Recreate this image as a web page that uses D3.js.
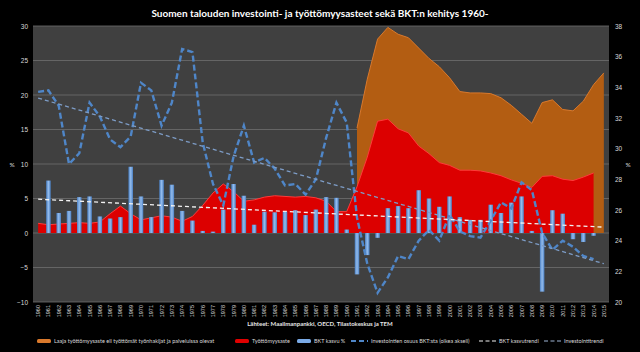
<!DOCTYPE html>
<html>
<head>
<meta charset="utf-8">
<script src="https://cdn.jsdelivr.net/npm/d3@7"></script>
<style>
body { margin: 0; background: #000; }
svg { display: block; font-family: Lato, "Open Sans", sans-serif; }
</style>
</head>
<body>
<div id="chart"></div>
<script>

// categories
var years = [1960, 1961, 1962, 1963, 1964, 1965, 1966, 1967, 1968, 1969,
             1970, 1971, 1972, 1973, 1974, 1975, 1976, 1977, 1978, 1979,
             1980, 1981, 1982, 1983, 1984, 1985, 1986, 1987, 1988, 1989,
             1990, 1991, 1992, 1993, 1994, 1995, 1996, 1997, 1998, 1999,
             2000, 2001, 2002, 2003, 2004, 2005, 2006, 2007, 2008, 2009,
             2010, 2011, 2012, 2013, 2014, 2015];

// BKT kasvu % (left axis)
var gdpGrowth = [null, 7.6, 2.9, 3.2, 5.2, 5.3, 2.4, 2.1, 2.3, 9.6,
                 5.3, 2.3, 7.7, 7.0, 3.2, 1.8, 0.3, 0.2, 3.4, 7.1,
                 5.4, 1.2, 3.1, 3.0, 3.1, 3.3, 2.6, 3.4, 5.2, 5.1,
                 0.5, -6.0, -3.2, -0.7, 3.6, 3.9, 3.6, 6.2, 5.0, 3.8,
                 5.3, 2.3, 1.9, 1.9, 4.1, 2.9, 4.4, 5.3, 0.3, -8.5,
                 3.3, 2.8, -0.9, -1.3, -0.4, null];

// Työttömyysaste (left axis)
var unemployment = [1.4, 1.2, 1.3, 1.4, 1.5, 1.4, 1.6, 2.8, 3.9, 2.8,
                    1.9, 2.2, 2.5, 2.3, 1.7, 2.4, 4.0, 5.8, 7.1, 6.0,
                    4.6, 4.8, 5.2, 5.4, 5.3, 5.2, 5.3, 5.1, 4.6, 3.1,
                    3.1, 6.7, 11.0, 16.2, 16.5, 15.1, 14.5, 12.6, 11.5, 10.2,
                    9.8, 9.1, 9.1, 9.0, 8.7, 8.3, 7.7, 7.2, 6.6, 8.2,
                    8.3, 7.8, 7.6, 8.1, 8.7, null];

// Laaja työttömyysaste (left axis)
var broadUnemployment = [null, null, null, null, null, null, null, null, null, null,
                         null, null, null, null, null, null, null, null, null, null,
                         null, null, null, null, null, null, null, null, null, null,
                         null, 15.2, 22.3, 28.1, 29.8, 28.8, 28.3, 26.8, 25.3, 24.1,
                         22.5, 20.5, 20.3, 20.3, 20.2, 19.6, 18.5, 17.2, 15.9, 18.9,
                         19.3, 17.9, 17.7, 19.1, 21.5, 23.2];

// Investointien osuus BKT:sta (right axis)
var investShare = [33.7, 33.8, 32.8, 29.0, 29.7, 33.0, 32.1, 30.6, 30.1, 30.8,
                   34.3, 33.8, 31.5, 33.0, 36.5, 36.3, 30.4, 27.7, 26.3, 29.5,
                   31.5, 29.1, 29.4, 28.7, 27.6, 27.7, 27.0, 28.0, 30.7, 33.0,
                   31.7, 25.5, 22.5, 20.6, 21.6, 23.0, 22.8, 24.0, 24.7, 24.0,
                   25.7, 24.6, 24.3, 24.2, 25.3, 26.5, 26.1, 27.8, 27.3, 24.5,
                   23.4, 24.0, 23.6, 23.0, 22.8, null];

// trend lines (start and end of the linear trend)
var trendYears = [1960, 2015];
var gdpTrend = [4.9, 0.85];
var investTrend = [33.3, 22.5];

// axis ticks
var leftTicks = [-10, -5, 0, 5, 10, 15, 20, 25, 30];
var rightTicks = [20, 22, 24, 26, 28, 30, 32, 34, 36, 38];

var title = "Suomen talouden investointi- ja työttömyysasteet sekä BKT:n kehitys 1960-";
var source = "Lähteet: Maailmanpankki, OECD, Tilastokeskus ja TEM";

var width = 640, height = 352;
var plot = {left: 33, right: 609, top: 26, bottom: 302};

var svg = d3.select("#chart").append("svg")
    .attr("width", width)
    .attr("height", height);

var defs = svg.append("defs");
var barGrad = defs.append("linearGradient")
    .attr("id", "barGrad")
    .attr("x1", 0).attr("x2", 1).attr("y1", 0).attr("y2", 0);
barGrad.append("stop").attr("offset", "0%").attr("stop-color", "#4a80c4");
barGrad.append("stop").attr("offset", "50%").attr("stop-color", "#94bcec");
barGrad.append("stop").attr("offset", "100%").attr("stop-color", "#4a80c4");

svg.append("rect")
    .attr("width", width)
    .attr("height", height)
    .attr("fill", "#000");

svg.append("rect")
    .attr("x", plot.left)
    .attr("y", plot.top)
    .attr("width", plot.right - plot.left)
    .attr("height", plot.bottom - plot.top)
    .attr("fill", "#404040");

var x = d3.scaleBand()
    .domain(years)
    .range([plot.left, plot.right])
    .paddingInner(0.56)
    .paddingOuter(0.28);

function cx(year) { return x(year) + x.bandwidth() / 2; }

var yL = d3.scaleLinear().domain([-10, 30]).range([plot.bottom, plot.top]);
var yR = d3.scaleLinear().domain([20, 38]).range([plot.bottom, plot.top]);

// gridlines
svg.append("g")
    .selectAll("line")
    .data(leftTicks).enter()
    .append("line")
    .attr("x1", plot.left)
    .attr("x2", plot.right)
    .attr("y1", function(d) { return yL(d); })
    .attr("y2", function(d) { return yL(d); })
    .attr("stroke", "#6e6e6e")
    .attr("stroke-width", 0.8);

//////////////
//draw areas//
//////////////
var rows = years.map(function(year, i) {
    return {year: year, gdp: gdpGrowth[i], unemp: unemployment[i],
            broad: broadUnemployment[i], invest: investShare[i]};
});

var broadArea = d3.area()
    .defined(function(d) { return d.broad != null; })
    .x(function(d) { return cx(d.year); })
    .y0(yL(0))
    .y1(function(d) { return yL(d.broad); });
var broadLine = d3.line()
    .defined(function(d) { return d.broad != null; })
    .x(function(d) { return cx(d.year); })
    .y(function(d) { return yL(d.broad); });

svg.append("path")
    .attr("d", broadArea(rows))
    .attr("fill", "#b35d12");
svg.append("path")
    .attr("d", broadLine(rows))
    .attr("fill", "none")
    .attr("stroke", "#d9792c")
    .attr("stroke-width", 1);

var unempArea = d3.area()
    .defined(function(d) { return d.unemp != null; })
    .x(function(d) { return cx(d.year); })
    .y0(yL(0))
    .y1(function(d) { return yL(d.unemp); });
var unempLine = d3.line()
    .defined(function(d) { return d.unemp != null; })
    .x(function(d) { return cx(d.year); })
    .y(function(d) { return yL(d.unemp); });

svg.append("path")
    .attr("d", unempArea(rows))
    .attr("fill", "#dc0000");
svg.append("path")
    .attr("d", unempLine(rows))
    .attr("fill", "none")
    .attr("stroke", "#ff3a3a")
    .attr("stroke-width", 1);

/////////////
//draw bars//
/////////////
svg.append("g")
    .selectAll("rect")
    .data(rows.filter(function(d) { return d.gdp != null; })).enter()
    .append("rect")
    .attr("x", function(d) { return x(d.year); })
    .attr("width", x.bandwidth())
    .attr("y", function(d) { return yL(Math.max(0, d.gdp)); })
    .attr("height", function(d) { return Math.abs(yL(d.gdp) - yL(0)); })
    .attr("fill", "url(#barGrad)");

//////////////
//draw lines//
//////////////
var investLine = d3.line()
    .defined(function(d) { return d.invest != null; })
    .x(function(d) { return cx(d.year); })
    .y(function(d) { return yR(d.invest); });

svg.append("path")
    .attr("d", investLine(rows))
    .attr("fill", "none")
    .attr("stroke", "#4f86c8")
    .attr("stroke-width", 2.4)
    .attr("stroke-dasharray", "6,3");

svg.append("line")
    .attr("x1", cx(trendYears[0])).attr("x2", cx(trendYears[1]))
    .attr("y1", yR(investTrend[0])).attr("y2", yR(investTrend[1]))
    .attr("stroke", "#7d9cc6")
    .attr("stroke-width", 1.3)
    .attr("stroke-dasharray", "4,3");

svg.append("line")
    .attr("x1", cx(trendYears[0])).attr("x2", cx(trendYears[1]))
    .attr("y1", yL(gdpTrend[0])).attr("y2", yL(gdpTrend[1]))
    .attr("stroke", "#f2f2f2")
    .attr("stroke-width", 1.3)
    .attr("stroke-dasharray", "4,3");

/////////////
//draw axes//
/////////////
var axisLeft = svg.append("g")
    .attr("transform", "translate(" + plot.left + ",0)")
    .call(d3.axisLeft(yL).tickValues(leftTicks).tickSize(0).tickPadding(5));
var axisRight = svg.append("g")
    .attr("transform", "translate(" + plot.right + ",0)")
    .call(d3.axisRight(yR).tickValues(rightTicks).tickSize(0).tickPadding(6));
var axisBottom = svg.append("g")
    .attr("transform", "translate(0," + plot.bottom + ")")
    .call(d3.axisBottom(x).tickSize(0));

[axisLeft, axisRight, axisBottom].forEach(function(a) {
    a.select(".domain").remove();
    a.selectAll("text")
        .attr("fill", "#d9d9d9")
        .style("font-size", "6.5px");
});
axisBottom.selectAll("text")
    .attr("transform", "rotate(-90)")
    .attr("text-anchor", "end")
    .attr("x", -3)
    .attr("y", 0)
    .attr("dy", "0.35em")
    .style("font-size", "5.5px");

svg.append("text")
    .attr("x", 12).attr("y", 167)
    .attr("fill", "#d9d9d9")
    .style("font-size", "6.5px")
    .attr("text-anchor", "middle")
    .text("%");
svg.append("text")
    .attr("x", 628).attr("y", 167)
    .attr("fill", "#d9d9d9")
    .style("font-size", "6.5px")
    .attr("text-anchor", "middle")
    .text("%");

svg.append("text")
    .attr("x", 320).attr("y", 17)
    .attr("fill", "#fff")
    .attr("text-anchor", "middle")
    .style("font-size", "10px")
    .style("font-weight", "bold")
    .text(title);

svg.append("text")
    .attr("x", 320).attr("y", 326)
    .attr("fill", "#e6e6e6")
    .attr("text-anchor", "middle")
    .style("font-size", "6px")
    .style("font-weight", "bold")
    .text(source);

//////////////
//draw legend//
//////////////
var legendItems = [
    {label: "Laaja työttömyysaste eli työttömät työnhakijat ja palveluissa olevat", type: "box", color: "#d9792c", x: 37},
    {label: "Työttömyysaste", type: "box", color: "#e00000", x: 235},
    {label: "BKT kasvu %", type: "box", color: "#7aaae6", x: 297},
    {label: "Investointien osuus BKT:sta (oikea akseli)", type: "line", color: "#4f86c8", dash: "5,3", sw: 2.2, x: 351},
    {label: "BKT kasvutrendi", type: "line", color: "#f2f2f2", dash: "4,2.5", sw: 1.2, x: 479},
    {label: "Investointitrendi", type: "line", color: "#9fb6d6", dash: "4,2.5", sw: 1.2, x: 544}
];
var legendY = 341;
var legend = svg.append("g")
    .selectAll("g")
    .data(legendItems).enter()
    .append("g")
    .attr("transform", function(d) { return "translate(" + d.x + "," + legendY + ")"; });

legend.filter(function(d) { return d.type == "box"; })
    .append("rect")
    .attr("x", 0).attr("y", -2)
    .attr("width", 14).attr("height", 4)
    .attr("rx", 1.5)
    .attr("fill", function(d) { return d.color; });
legend.filter(function(d) { return d.type == "line"; })
    .append("line")
    .attr("x1", 0).attr("x2", 17)
    .attr("y1", 0).attr("y2", 0)
    .attr("stroke", function(d) { return d.color; })
    .attr("stroke-width", function(d) { return d.sw; })
    .attr("stroke-dasharray", function(d) { return d.dash; });
legend.append("text")
    .attr("x", function(d) { return d.type == "box" ? 17 : 20; })
    .attr("y", 0)
    .attr("dy", "0.35em")
    .attr("fill", "#d9d9d9")
    .style("font-size", "5.5px")
    .text(function(d) { return d.label; });

</script>
</body>
</html>
